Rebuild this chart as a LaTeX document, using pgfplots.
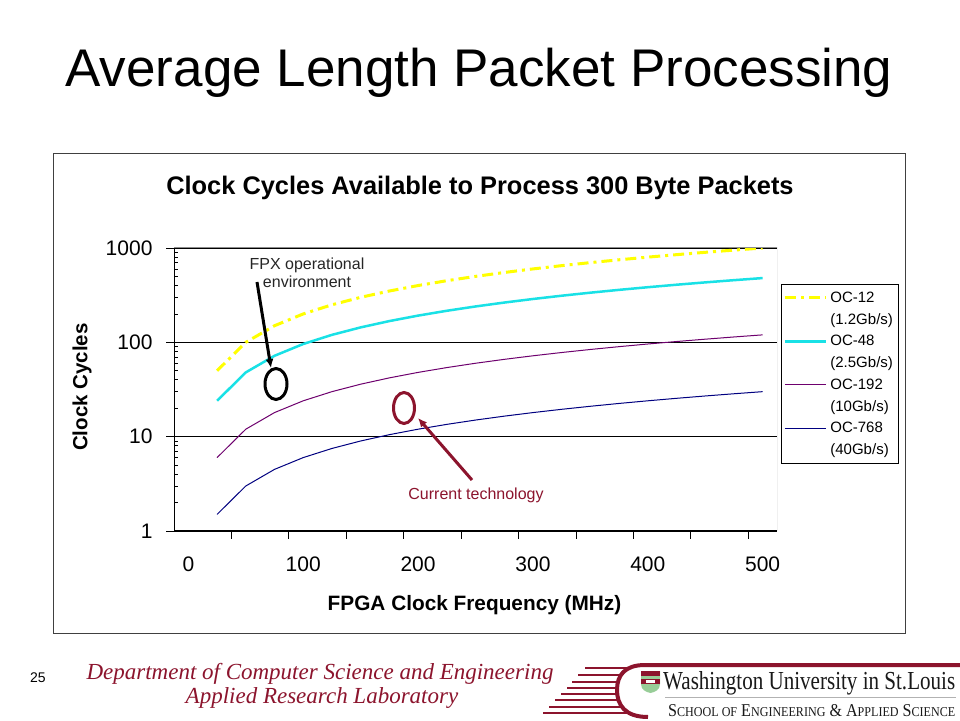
\documentclass[border=0pt]{standalone}
\usepackage{pgfplots}
\usepackage{pgfplotstable}
\pgfplotsset{compat=1.18}
\usepackage{graphicx}
\usepackage{fontspec}
\setmainfont{Liberation Sans}
\newfontfamily\seriffont{Liberation Serif}
\usetikzlibrary{arrows.meta}

\definecolor{oc12}{RGB}{255,255,0}
\definecolor{oc48}{RGB}{25,225,230}
\definecolor{oc192}{RGB}{110,0,110}
\definecolor{oc768}{RGB}{0,0,128}
\definecolor{wured}{RGB}{140,20,45}

% clock cycles for a 300 byte packet
\pgfplotstableread{
f    oc12  oc48  oc192  oc768
25   50    24    6      1.5
50   100   48    12     3
75   150   72    18     4.5
100  200   96    24     6
125  250   120   30     7.5
150  300   144   36     9
175  350   168   42     10.5
200  400   192   48     12
225  450   216   54     13.5
250  500   240   60     15
275  550   264   66     16.5
300  600   288   72     18
325  650   312   78     19.5
350  700   336   84     21
375  750   360   90     22.5
400  800   384   96     24
425  850   408   102    25.5
450  900   432   108    27
475  950   456   114    28.5
500  1000  480   120    30
}\cycles

\begin{document}
\begin{tikzpicture}[x=1pt,y=1pt]
% slide background
\fill[white] (0,0) rectangle (960,720);

% slide title
\node[anchor=base, inner sep=0pt, font=\fontsize{53}{60}\selectfont] at (479,633) {Average Length Packet Processing};

% chart frame
\draw[black!75, line width=1pt] (53,566) rectangle (905,87);
\node[anchor=base, inner sep=0pt, font=\bfseries\fontsize{25.4}{30}\selectfont] at (480,525) {Clock Cycles Available to Process 300 Byte Packets};

\begin{axis}[
  at={(174pt,189pt)}, anchor=south west,
  scale only axis, width=603pt, height=283pt,
  xmin=-12.5, xmax=512.5,
  ymode=log, ymin=1, ymax=1000,
  axis lines=left, axis line style={-, black, line width=1pt},
  xtick={37.5,87.5,...,487.5}, xticklabels={},
  extra x ticks={0,100,200,300,400,500},
  extra x tick labels={0,100,200,300,400,500},
  extra x tick style={major tick length=0pt},
  ytick={1,10,100,1000}, yticklabels={1,10,100,1000},
  tick align=outside, major tick length=8pt, minor tick length=4pt,
  minor tick style={xshift=4pt},
  tick style={black, line width=0.8pt},
  ymajorgrids, major grid style={black, line width=0.8pt},
  tick label style={font=\fontsize{21}{25}\selectfont},
  xticklabel style={yshift=-22pt},
  yticklabel style={xshift=-10pt},
  legend style={at={(axis description cs:1.0066,0.8728)}, anchor=north west,
    draw=black, line width=0.8pt, fill=white,
    font=\fontsize{15}{21.8}\selectfont,
    nodes={align=left, inner xsep=3pt, inner ysep=4.9pt}, row sep=0pt,
    inner xsep=2pt, inner ysep=2.5pt},
  legend cell align=left,
  legend image code/.code={\draw[#1] (0pt,10.9pt) -- (41pt,10.9pt);},
]
\addplot[oc12, line width=3pt, dash pattern=on 11pt off 5pt on 3pt off 5pt] table[x=f, y=oc12] {\cycles};
\addlegendentry{OC-12\\(1.2Gb/s)}
\addplot[oc48, line width=2.5pt] table[x=f, y=oc48] {\cycles};
\addlegendentry{OC-48\\(2.5Gb/s)}
\addplot[oc192, line width=1pt] table[x=f, y=oc192] {\cycles};
\addlegendentry{OC-192\\(10Gb/s)}
\addplot[oc768, line width=1pt] table[x=f, y=oc768] {\cycles};
\addlegendentry{OC-768\\(40Gb/s)}
\draw[black!45, line width=1pt] (rel axis cs:0,1) -- (rel axis cs:1,1) -- (rel axis cs:1,0);
\end{axis}

% axis titles
\node[rotate=90, inner sep=0pt, font=\bfseries\fontsize{20.5}{24}\selectfont] at (82,333) {Clock Cycles};
\node[anchor=base, inner sep=0pt, font=\bfseries\fontsize{20.8}{24}\selectfont] at (474.5,110) {FPGA Clock Frequency (MHz)};

% annotations
\node[align=center, inner sep=0pt, text=black!85, font=\fontsize{16}{18}\selectfont] at (307,447) {FPX operational\\environment};
\draw[black, line width=3pt, -{Latex[length=9pt,width=8pt]}] (257,438) -- (271,352);
\draw[black, line width=3pt] (276,336) ellipse [x radius=11, y radius=15.5];
\draw[wured, line width=3pt] (404,312) ellipse [x radius=10.5, y radius=15.5];
\draw[wured, line width=3pt, -{Latex[length=9pt,width=8pt]}] (472,240) -- (418,302);
\node[inner sep=0pt, text=wured, font=\fontsize{16}{18}\selectfont] at (476,225) {Current technology};

% footer
\node[inner sep=0pt, font=\fontsize{14}{16}\selectfont] at (38,42) {25};
\node[anchor=base, inner sep=0pt, text=wured, font=\seriffont\itshape\fontsize{23}{26}\selectfont] at (320,41) {Department of Computer Science and Engineering};
\node[anchor=base, inner sep=0pt, text=wured, font=\seriffont\itshape\fontsize{23}{26}\selectfont] at (322,17) {Applied Research Laboratory};

% logo stripes and bracket
\foreach \yy/\xa/\xb in {668/585/629, 675/578/622, 682/572/619, 688/567/618, 694/561/618, 700/555/619, 707/549/622, 713/543/628}
  \draw[wured, line width=1.3pt] (\xa,720-\yy) -- (\xb,720-\yy);
\draw[wured, line width=4pt] (960,55) -- (645,55) .. controls (625,55) and (617,45) .. (617,30) .. controls (617,15) and (625,3) .. (648,3);
\draw[black!30, line width=0.6pt] (665,23) -- (956,23);
% shield
\fill[green!35!gray!60] (641,49) -- (660,49) -- (660,36) .. controls (660,30) and (655,28) .. (650.5,27) .. controls (646,28) and (641,30) .. (641,36) -- cycle;
\fill[wured] (641,49) rectangle (660,44);
\fill[wured] (641,41) rectangle (660,36);
\fill[white] (646,40) rectangle (655,37);
\node[anchor=base west, inner sep=0pt, text=black!90] at (663,31) {\resizebox{292pt}{18pt}{\seriffont Washington University in St.Louis}};
\node[anchor=base west, inner sep=0pt, text=black!90] at (668,4) {\resizebox{287pt}{12pt}{\seriffont\fontsize{16}{18}\selectfont S{\fontsize{12}{14}\selectfont CHOOL OF} E{\fontsize{12}{14}\selectfont NGINEERING} \& A{\fontsize{12}{14}\selectfont PPLIED} S{\fontsize{12}{14}\selectfont CIENCE}}};

\pgfresetboundingbox
\path[use as bounding box] (0,0) rectangle (960,720);
\end{tikzpicture}
\end{document}
